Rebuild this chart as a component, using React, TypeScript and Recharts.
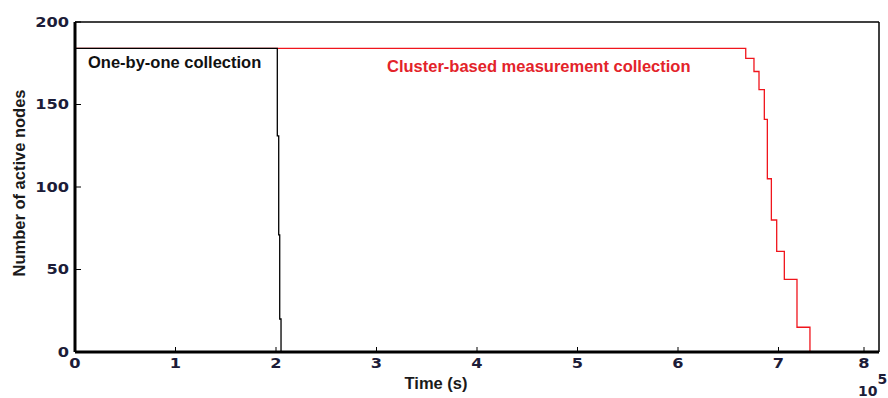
import { LineChart, Line, XAxis, YAxis, ReferenceLine } from 'recharts';

// one-by-one collection (black)
const blackTimes = [0, 201300, 202700, 203700, 205000];
const blackNodes = [184, 131, 71, 20, 0];

// cluster-based measurement collection (red)
const redTimes = [0, 667400, 675600, 680600, 685900, 688900, 692900, 698200, 705800, 718400, 731300];
const redNodes = [184, 178, 170, 159, 141, 105, 80, 61, 44, 15, 0];

const xTicks = [0, 100000, 200000, 300000, 400000, 500000, 600000, 700000, 800000];
const yTicks = [0, 50, 100, 150, 200];

const blackData = blackTimes.map((t, i) => ({ t, n: blackNodes[i] }));
const redData = redTimes.map((t, i) => ({ t, n: redNodes[i] }));

const TICK_FONT = '"DejaVu Sans", sans-serif';
const LABEL_FONT = '"Liberation Sans", Arial, sans-serif';
const TICK_COLOR = '#1c1c38';

// tick labels in the source are a little wider than DejaVu, so stretch them
function TickText({ x, y, anchor, children }: any) {
  return (
    <text
      transform={`translate(${x} ${y}) scale(1.2 1)`}
      textAnchor={anchor}
      dominantBaseline="central"
      fontFamily={TICK_FONT}
      fontWeight="bold"
      fontSize={13.5}
      fill={TICK_COLOR}
    >
      {children}
    </text>
  );
}

function XTick(props: any) {
  const { x, y, payload } = props;
  return (
    <g>
      <line x1={x} y1={y} x2={x} y2={y - 5} stroke="#000" strokeWidth={1} />
      <TickText x={x} y={y + 11} anchor="middle">{payload.value / 100000}</TickText>
    </g>
  );
}

function YTick(props: any) {
  const { x, y, payload } = props;
  return (
    <g>
      <line x1={x} y1={y} x2={x + 6} y2={y} stroke="#000" strokeWidth={1} />
      <TickText x={x - 6} y={y} anchor="end">{payload.value}</TickText>
    </g>
  );
}

export default function App() {
  return (
    <div style={{ position: 'absolute', left: 0, top: 0, width: 888, height: 398, overflow: 'hidden', background: '#fff' }}>
      <style>{'html, body { margin: 0; overflow: hidden; }'}</style>
      <LineChart width={888} height={398} margin={{ top: 22, right: 9, bottom: 16, left: 0 }}>
        <XAxis
          type="number"
          dataKey="t"
          domain={[0, 800000]}
          ticks={xTicks}
          tickSize={0}
          tickMargin={0}
          height={30}
          tick={<XTick />}
          axisLine={{ stroke: '#000', strokeWidth: 3 }}
          allowDataOverflow
        />
        <YAxis
          type="number"
          dataKey="n"
          domain={[0, 200]}
          ticks={yTicks}
          tickSize={0}
          tickMargin={0}
          width={75}
          tick={<YTick />}
          axisLine={{ stroke: '#000', strokeWidth: 3 }}
        />
        <ReferenceLine y={200} stroke="#000" strokeWidth={1.5} />
        <ReferenceLine x={800000} stroke="#000" strokeWidth={1.5} />
        <Line data={redData} dataKey="n" type="stepAfter" stroke="#f0151c" strokeWidth={1.3} dot={false} isAnimationActive={false} />
        <Line data={blackData} dataKey="n" type="stepAfter" stroke="#000" strokeWidth={1.3} dot={false} isAnimationActive={false} />
        <text x={19} y={183} transform="rotate(-90 19 183)" textAnchor="middle" dominantBaseline="central" fontFamily={LABEL_FONT} fontWeight="bold" fontSize={16.5} fill="#1a1a1a">
          Number of active nodes
        </text>
        <text x={436} y={389} textAnchor="middle" fontFamily={LABEL_FONT} fontWeight="bold" fontSize={16.5} fill="#1a1a1a">
          Time (s)
        </text>
        <text x={858} y={396} fontFamily={TICK_FONT} fontWeight="bold" fontSize={14} fill={TICK_COLOR}>
          10
          <tspan dy={-12}>5</tspan>
        </text>
        <text x={88} y={68} fontFamily={LABEL_FONT} fontWeight="bold" fontSize={16.5} fill="#111">
          One-by-one collection
        </text>
        <text x={387} y={72} fontFamily={LABEL_FONT} fontWeight="bold" fontSize={16.5} fill="#e3232a">
          Cluster-based measurement collection
        </text>
      </LineChart>
    </div>
  );
}
